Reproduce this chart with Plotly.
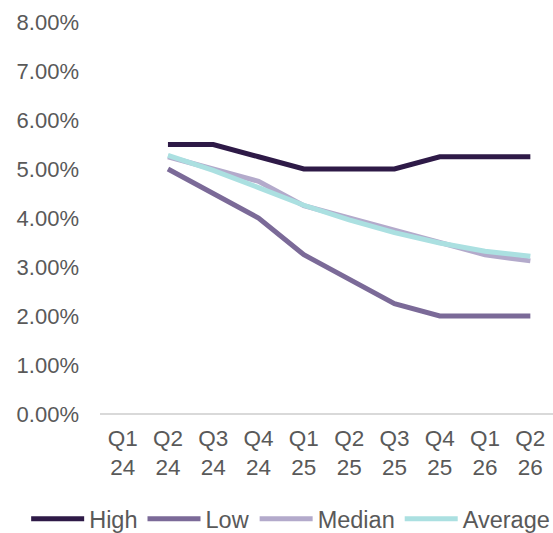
import plotly.graph_objects as go

quarters = ["Q1<br>24", "Q2<br>24", "Q3<br>24", "Q4<br>24", "Q1<br>25",
            "Q2<br>25", "Q3<br>25", "Q4<br>25", "Q1<br>26", "Q2<br>26"]

high = [None, 5.50, 5.50, 5.25, 5.00, 5.00, 5.00, 5.25, 5.25, 5.25]
low = [None, 5.00, 4.50, 4.00, 3.25, 2.75, 2.25, 2.00, 2.00, 2.00]
median = [None, 5.25, 5.00, 4.75, 4.25, 4.00, 3.75, 3.50, 3.25, 3.125]
average = [None, 5.28, 4.97, 4.62, 4.26, 3.96, 3.70, 3.49, 3.32, 3.22]

series = [
    ("High", high, "#2e1a47"),
    ("Low", low, "#7b6a98"),
    ("Median", median, "#b3aacb"),
    ("Average", average, "#abe0e1"),
]

fig = go.Figure()
for name, vals, color in series:
    fig.add_trace(go.Scatter(
        x=quarters, y=[v / 100 if v is not None else None for v in vals],
        name=name, mode="lines",
        line=dict(color=color, width=5),
    ))

family = "Liberation Sans, Arial, sans-serif"
grey = "#595959"

fig.update_layout(
    width=553, height=533,
    margin=dict(l=100, r=0, t=22, b=119, autoexpand=False),
    paper_bgcolor="white", plot_bgcolor="white",
    font=dict(family=family, size=22, color=grey),
    showlegend=True,
    legend=dict(orientation="h", x=-0.163, xanchor="left",
                y=-0.268, yanchor="middle",
                font=dict(family=family, size=23.5, color=grey),
                itemwidth=53, tracegroupgap=0),
    xaxis=dict(showgrid=False, showline=False, zeroline=False, ticks="",
               tickfont=dict(family=family, size=22.5, color=grey),
               range=[-0.5, 9.5], automargin=False, ticklabelstandoff=8),
    yaxis=dict(range=[0, 0.08], dtick=0.01, tickformat=".2%", showgrid=False,
               zeroline=True, zerolinecolor="#d9d9d9", zerolinewidth=2,
               showline=False, ticks="",
               tickfont=dict(family=family, size=22, color=grey),
               ticklabelstandoff=20, automargin=False),
)

fig.write_html("out.html")
